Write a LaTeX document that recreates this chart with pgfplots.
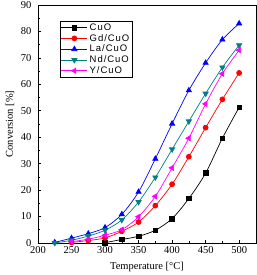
\documentclass[border=0pt]{standalone}
\usepackage{fontspec}
\setmainfont{Liberation Serif}
\newfontfamily\legfont[LetterSpace=10]{Liberation Sans}
\usepackage{pgfplots}
\pgfplotsset{compat=1.18}

\definecolor{cuo}{RGB}{0,0,0}
\definecolor{gd}{RGB}{255,0,0}
\definecolor{la}{RGB}{0,0,255}
\definecolor{nd}{RGB}{0,128,128}
\definecolor{yc}{RGB}{255,0,255}

\begin{document}
\begin{tikzpicture}
\begin{axis}[
  scale only axis,
  width=218pt, height=238pt,
  xmin=200, xmax=525, ymin=0, ymax=90,
  xtick={200,250,...,500},
  ytick={0,10,...,90},
  minor x tick num=1,
  minor y tick num=1,
  tick align=inside,
  xtick pos=bottom, ytick pos=left,
  major tick length=3pt, minor tick length=1.8pt,
  axis line style={line width=0.8pt},
  every tick/.style={black, line width=0.6pt},
  /pgf/number format/assume math mode=true,
  tick label style={font=\fontsize{10.5}{12}\selectfont},
  xticklabel style={yshift=-2.5pt, inner ysep=1pt},
  yticklabel style={xshift=-3pt, inner ysep=1pt},
  xlabel={Temperature [°C]},
  ylabel={Conversion [\%]},
  label style={font=\fontsize{10.5}{12}\selectfont},
  xlabel style={at={([yshift=-24pt]axis description cs:0.5,0)}, anchor=center},
  ylabel style={at={([xshift=-28pt]axis description cs:0,0.5)}, anchor=center},
  legend style={
    at={(axis description cs:0.10,0.933)}, anchor=north west,
    draw=black, line width=0.5pt,
    font=\legfont\fontsize{9.5}{11}\selectfont,
    inner xsep=1pt, inner ysep=0.5pt,
    row sep=-1.6pt,
  },
  legend cell align=left,
  legend image code/.code={
    \draw[mark repeat=2,mark phase=2]
      plot coordinates {(0pt,0pt) (13pt,0pt) (26pt,0pt)};
  },
  every axis plot/.append style={line width=0.7pt, smooth, tension=0.5},
]
% CuO
\addplot[color=cuo, mark=square*, mark size=2.3pt] coordinates {
  (300,0.1) (325,1.3) (350,2.5) (375,4.8) (400,9.2) (425,16.8)
  (450,26.4) (475,39.6) (500,51.3)};
\addlegendentry{CuO}
% Gd/CuO
\addplot[color=gd, mark=*, mark size=2.5pt] coordinates {
  (250,0.2) (275,0.9) (300,1.9) (325,4.4) (350,7.9) (375,14.1)
  (400,22.2) (425,32.6) (450,43.6) (475,54.3) (500,64.3)};
\addlegendentry{Gd/CuO}
% La/CuO
\addplot[color=la, mark=triangle*, mark size=3pt] coordinates {
  (225,0.2) (250,1.8) (275,3.5) (300,5.8) (325,10.8) (350,19.3)
  (375,31.8) (400,45.1) (425,57.7) (450,68.1) (475,76.9) (500,83)};
\addlegendentry{La/CuO}
% Nd/CuO
\addplot[color=nd, mark=triangle*, mark options={rotate=180}, mark size=3pt] coordinates {
  (225,0) (250,1) (275,2.6) (300,4.8) (325,8.7) (350,15.5)
  (375,24.8) (400,35.4) (425,46) (450,56.5) (475,66.4) (500,74.8)};
\addlegendentry{Nd/CuO}
% Y/CuO
\addplot[color=yc, mark=triangle*, mark options={rotate=90}, mark size=3pt] coordinates {
  (250,0.5) (275,1.4) (300,2.9) (325,5) (350,9.9) (375,17.6)
  (400,28.4) (425,39.6) (450,52.6) (475,64) (500,72.9)};
\addlegendentry{Y/CuO}
\end{axis}
\path (current axis.south west) ++(-38pt,-32pt) coordinate (bbA);
\path (current axis.north east) ++(1pt,5pt) coordinate (bbB);
\path (bbA) rectangle (bbB);
\end{tikzpicture}
\end{document}
